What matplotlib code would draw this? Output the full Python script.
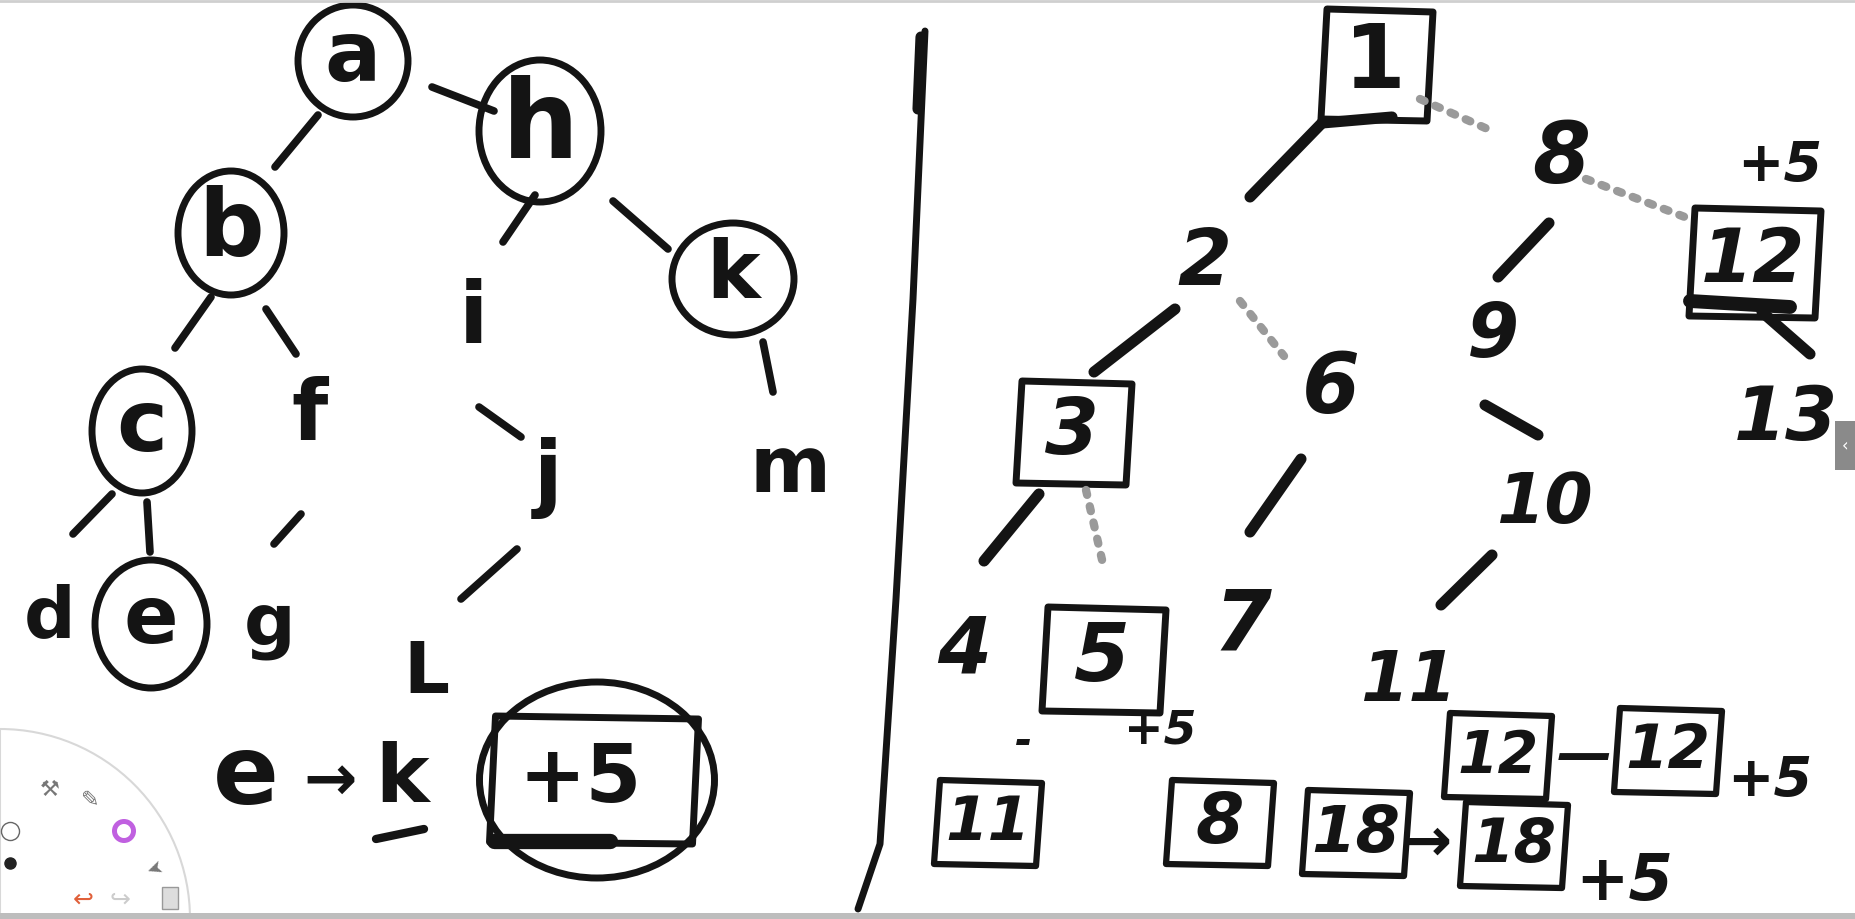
import numpy as np
import matplotlib.pyplot as plt
from matplotlib.patches import Ellipse, Polygon, Wedge, Rectangle

INK = "#141414"
DOT = "#9a9a9a"

# ---- left tree: labels and where they sit (pixels, y down) ----
left_labels = ["a", "h", "b", "k", "c", "e", "d", "f", "g", "i", "j", "m", "L"]
left_x = [353, 540, 231, 733, 142, 151, 50, 310, 270, 473, 548, 790, 426]
left_y = [58, 128, 230, 276, 428, 621, 618, 417, 627, 320, 478, 470, 674]
left_circled = [True, True, True, True, True, True, False, False, False, False, False, False, False]
left_size = [60, 78, 66, 58, 62, 58, 52, 60, 52, 62, 60, 56, 52]

# circle sizes (width, height) for circled nodes
circle_w = [110, 122, 106, 122, 100, 112]
circle_h = [112, 142, 124, 112, 124, 128]

# edges of left tree drawn as short strokes
left_edges = [
    ((275, 168), (318, 116)),
    ((432, 88), (494, 112)),
    ((175, 349), (211, 298)),
    ((266, 310), (296, 355)),
    ((503, 243), (535, 196)),
    ((613, 202), (668, 250)),
    ((73, 535), (112, 495)),
    ((147, 503), (150, 553)),
    ((274, 545), (301, 515)),
    ((479, 408), (521, 438)),
    ((763, 343), (773, 393)),
    ((461, 600), (517, 550)),
]

# bottom-left note: e -> k  (+5)
note_left_text = ["e", "\u2192", "k", "+5"]
note_left_x = [246, 330, 402, 580]
note_left_y = [778, 782, 780, 780]
note_left_size = [70, 46, 58, 58]

# ---- right tree ----
right_labels = ["1", "8", "12", "2", "9", "13", "3", "6", "10", "4", "5", "7", "11"]
right_x = [1375, 1561, 1753, 1204, 1493, 1786, 1072, 1331, 1544, 964, 1102, 1242, 1408]
right_y = [64, 160, 262, 263, 337, 420, 432, 390, 503, 651, 659, 627, 682]
right_boxed = [True, False, True, False, False, False, True, False, False, False, True, False, False]
right_size = [64, 60, 54, 56, 54, 54, 56, 60, 50, 56, 58, 60, 50]
box_w = [108, 0, 128, 0, 0, 0, 112, 0, 0, 0, 120, 0, 0]
box_h = [112, 0, 110, 0, 0, 0, 104, 0, 0, 0, 106, 0, 0]

# solid and dotted edges of right tree
right_solid = [
    ((1250, 198), (1322, 124)),
    ((1322, 124), (1392, 118)),
    ((1498, 278), (1549, 224)),
    ((1762, 313), (1810, 355)),
    ((1094, 373), (1175, 310)),
    ((1485, 406), (1538, 436)),
    ((984, 562), (1039, 495)),
    ((1250, 533), (1301, 460)),
    ((1441, 606), (1492, 556)),
]
right_dotted = [
    ((1420, 100), (1492, 132)),
    ((1586, 180), (1690, 220)),
    ((1240, 302), (1284, 357)),
    ((1086, 491), (1103, 565)),
]

# bottom-right scribbles: boxed numbers and notes
note_right_text = ["11", "8", "18", "\u2192", "18", "+5", "12", "\u2014", "12", "+5", "+5", "+5", "-"]
note_right_x = [988, 1220, 1356, 1426, 1514, 1624, 1498, 1584, 1668, 1770, 1780, 1160, 1024]
note_right_y = [824, 824, 834, 844, 846, 882, 757, 757, 752, 781, 166, 731, 742]
note_right_size = [44, 50, 46, 44, 44, 46, 42, 40, 44, 40, 40, 34, 30]
note_right_boxed = [True, True, True, False, True, False, True, False, True, False, False, False, False]


def stroke(ax, p, q, color=INK, lw=5.5, ls="-"):
    ax.plot([p[0], q[0]], [p[1], q[1]], color=color, lw=lw, ls=ls,
            solid_capstyle="round", dash_capstyle="round")


def box_around(ax, x, y, w, h, lw=4.5):
    # slightly skewed hand drawn square
    pts = [(x - w / 2 + 4, y - h / 2), (x + w / 2 + 2, y - h / 2 + 3),
           (x + w / 2 - 4, y + h / 2), (x - w / 2 - 2, y + h / 2 - 2)]
    ax.add_patch(Polygon(pts, closed=True, fill=False, ec=INK, lw=lw, joinstyle="round"))


fig = plt.figure(figsize=(18.55, 9.2), dpi=100)
ax = fig.add_axes([0, 0, 1, 1])
ax.set_xlim(0, 1855)
ax.set_ylim(920, 0)
ax.axis("off")

txt = dict(color=INK, ha="center", va="center", family="DejaVu Sans", weight="bold")

# left tree
for i, lab in enumerate(left_labels):
    ax.text(left_x[i], left_y[i], lab, fontsize=left_size[i], **txt)
    if left_circled[i]:
        ax.add_patch(Ellipse((left_x[i], left_y[i] + 4), circle_w[i], circle_h[i],
                             fill=False, ec=INK, lw=5))
for p, q in left_edges:
    stroke(ax, p, q)

for i, t in enumerate(note_left_text):
    ax.text(note_left_x[i], note_left_y[i], t, fontsize=note_left_size[i], **txt)
# the +5 is boxed and circled, underline under k
box_around(ax, 594, 781, 205, 128, lw=5)
ax.add_patch(Ellipse((597, 781), 235, 196, fill=False, ec=INK, lw=5))
stroke(ax, (494, 842), (610, 842), lw=11)
stroke(ax, (376, 840), (424, 830), lw=6)

# divider
ax.plot([925, 913, 896, 880, 858], [32, 300, 600, 845, 910], color=INK, lw=5,
        solid_capstyle="round")
stroke(ax, (921, 38), (918, 110), lw=8)

# right tree
for i, lab in enumerate(right_labels):
    sty = "normal" if lab == "1" else "italic"
    ax.text(right_x[i], right_y[i], lab, fontsize=right_size[i], style=sty, **txt)
    if right_boxed[i]:
        box_around(ax, right_x[i] + 2, right_y[i] + 2, box_w[i], box_h[i], lw=5)
for p, q in right_solid:
    stroke(ax, p, q, lw=8)
for p, q in right_dotted:
    stroke(ax, p, q, color=DOT, lw=6, ls=(0, (0.6, 1.4)))
# thick base under the 12 box
stroke(ax, (1690, 302), (1790, 308), lw=10)

for i, t in enumerate(note_right_text):
    ax.text(note_right_x[i], note_right_y[i], t, fontsize=note_right_size[i],
            style="italic", **txt)
    if note_right_boxed[i]:
        box_around(ax, note_right_x[i], note_right_y[i], 104, 86, lw=4.5)

# tool palette, bottom left
ax.add_patch(Wedge((0, 920), 190, 270, 360, fc="white", ec="#d8d8d8", lw=1.5))
ax.add_patch(Wedge((124, 832), 12, 0, 360, width=5, fc="#c060e0", ec="none"))
ax.plot([10], [864], "o", color="#222", ms=8)
ax.plot([10], [832], "o", mfc="white", mec="#666", ms=13)
ax.text(83, 900, "\u21a9", color="#e0603a", fontsize=18, ha="center", va="center")
ax.text(120, 900, "\u21aa", color="#cccccc", fontsize=18, ha="center", va="center")
ax.text(150, 866, "\u27a4", color="#777", fontsize=14, ha="center", va="center", rotation=200)
ax.text(50, 790, "\u2692", color="#777", fontsize=16, ha="center", va="center")
ax.text(90, 800, "\u270e", color="#777", fontsize=16, ha="center", va="center")
ax.add_patch(Rectangle((162, 888), 16, 22, fc="#ddd", ec="#999", lw=1))

# side tab on the right edge and frame bits
ax.add_patch(Rectangle((1835, 422), 20, 49, fc="#8a8a8a", ec="none"))
ax.text(1845, 446, "\u2039", color="white", fontsize=12, ha="center", va="center")
ax.axhline(2, color="#cfcfcf", lw=2)
ax.add_patch(Rectangle((0, 914), 1855, 6, fc="#bdbdbd", ec="none"))

fig.savefig("out.png", dpi=100)
